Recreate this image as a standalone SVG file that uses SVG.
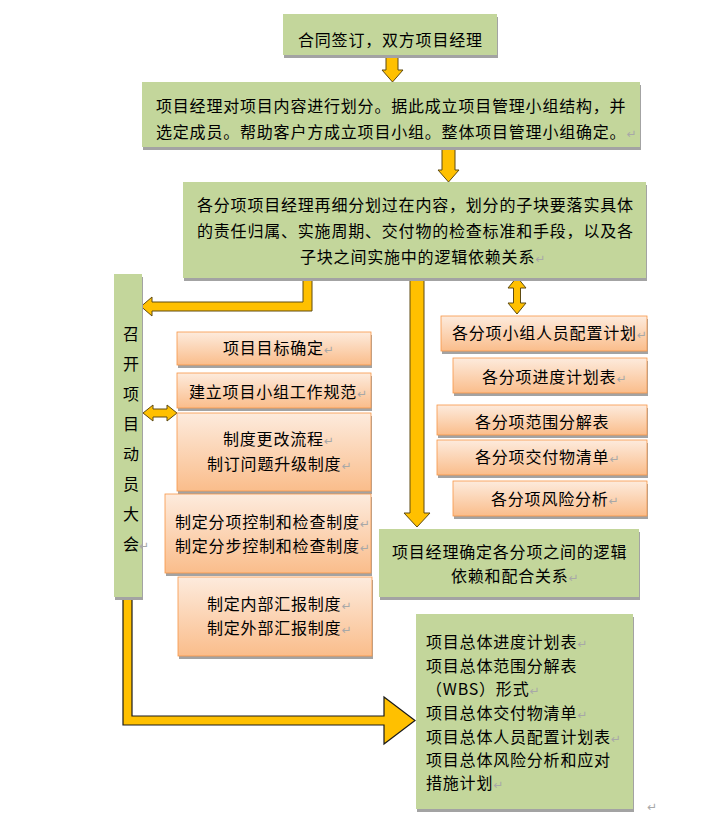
<svg xmlns="http://www.w3.org/2000/svg" width="703" height="816" viewBox="0 0 703 816">
<style>
text{font-family:"Noto Sans CJK SC","DejaVu Sans",sans-serif;font-size:16px;letter-spacing:0.8px;fill:#000}
.g{fill:#C3D69B}
.o{fill:url(#og);stroke:#F79646;stroke-width:0.8}
.sh{fill:#A3A3A3}
.pm{fill:#A8A8A8;font-size:12px;font-family:"DejaVu Sans",sans-serif;letter-spacing:0}
.arr{fill:#FFC000;stroke:#5E4B12;stroke-width:1}
.arrk{fill:#FFC000;stroke:#1A1A1A;stroke-width:1.2}
</style>
<defs>
<linearGradient id="og" x1="0" y1="0" x2="0" y2="1">
<stop offset="0" stop-color="#FDEBDD"/>
<stop offset="1" stop-color="#FABD8B"/>
</linearGradient>
</defs>
<rect width="703" height="816" fill="#fff"/>

<g id="connectors">
<polygon class="arr" points="386,56 398,56 398,70 403,70 392.5,82 382,70 386,70"/>
<polygon class="arr" points="442,148 455,148 455,170 459,170 448.5,182 438,170 442,170"/>
<polygon class="arr" points="312,278 312,311 152,311 152,316 141,306.5 152,297 152,302 303,302 303,278"/>
<polygon class="arr" points="410,278 424,278 424,513 430,513 417,527 404,513 410,513"/>
<polygon class="arr" points="517,277 526,288 520.5,288 520.5,303 526,303 517,314 508,303 513.5,303 513.5,288 508,288"/>
<polygon class="arr" points="143,413 153,405 153,409 167,409 167,405 177,413 167,421 167,417 153,417 153,421"/>
<polygon class="arrk" points="123,597 132,597 132,716 384,716 384,697 415,720.5 384,744 384,725 123,725"/>
</g>

<g id="n1">
<rect class="sh" x="284" y="17" width="214" height="41"/>
<rect class="g" x="283" y="14" width="214" height="41"/>
<text x="298" y="46">合同签订，双方项目经理</text>
</g>

<g id="n2">
<rect class="sh" x="143" y="85" width="498" height="65"/>
<rect class="g" x="142" y="82" width="498" height="65"/>
<text x="156" y="112">项目经理对项目内容进行划分。据此成立项目管理小组结构，并</text>
<text x="156" y="138">选定成员。帮助客户方成立项目小组。整体项目管理小组确定。<tspan class="pm">↵</tspan></text>
</g>

<g id="n3">
<rect class="sh" x="184" y="185" width="463" height="96"/>
<rect class="g" x="183" y="182" width="463" height="96"/>
<text x="197" y="211">各分项项目经理再细分划过在内容，划分的子块要落实具体</text>
<text x="197" y="237">的责任归属、实施周期、交付物的检查标准和手段，以及各</text>
<text x="300" y="263">子块之间实施中的逻辑依赖关系<tspan class="pm">↵</tspan></text>
</g>

<g id="n4">
<rect class="sh" x="115" y="277" width="28" height="323"/>
<rect class="g" x="114" y="274" width="28" height="323"/>
<text x="131" y="340" text-anchor="middle" style="letter-spacing:0">召</text>
<text x="131" y="370" text-anchor="middle" style="letter-spacing:0">开</text>
<text x="131" y="400" text-anchor="middle" style="letter-spacing:0">项</text>
<text x="131" y="430" text-anchor="middle" style="letter-spacing:0">目</text>
<text x="131" y="460" text-anchor="middle" style="letter-spacing:0">动</text>
<text x="131" y="490" text-anchor="middle" style="letter-spacing:0">员</text>
<text x="131" y="520" text-anchor="middle" style="letter-spacing:0">大</text>
<text x="123" y="550" style="letter-spacing:0">会<tspan class="pm">↵</tspan></text>
</g>

<g id="n5">
<rect class="sh" x="178" y="335" width="194" height="33"/>
<rect class="o" x="177" y="332" width="194" height="33"/>
<text x="223" y="354">项目目标确定<tspan class="pm">↵</tspan></text>
</g>
<g id="n6">
<rect class="sh" x="178" y="376" width="194" height="35"/>
<rect class="o" x="177" y="373" width="194" height="35"/>
<text x="189" y="398">建立项目小组工作规范<tspan class="pm">↵</tspan></text>
</g>
<g id="n7">
<rect class="sh" x="178" y="416" width="194" height="78"/>
<rect class="o" x="177" y="413" width="194" height="78"/>
<text x="223" y="445">制度更改流程<tspan class="pm">↵</tspan></text>
<text x="207" y="470">制订问题升级制度<tspan class="pm">↵</tspan></text>
</g>
<g id="n8">
<rect class="sh" x="166" y="497" width="206" height="79"/>
<rect class="o" x="165" y="494" width="206" height="79"/>
<text x="175" y="528">制定分项控制和检查制度<tspan class="pm">↵</tspan></text>
<text x="175" y="552">制定分步控制和检查制度<tspan class="pm">↵</tspan></text>
</g>
<g id="n9">
<rect class="sh" x="179" y="580" width="194" height="79"/>
<rect class="o" x="178" y="577" width="194" height="79"/>
<text x="207" y="610">制定内部汇报制度<tspan class="pm">↵</tspan></text>
<text x="207" y="634">制定外部汇报制度<tspan class="pm">↵</tspan></text>
</g>

<g id="n10">
<rect class="sh" x="442" y="319" width="206" height="35"/>
<rect class="o" x="441" y="316" width="206" height="35"/>
<text x="452" y="339">各分项小组人员配置计划<tspan class="pm">↵</tspan></text>
</g>
<g id="n11">
<rect class="sh" x="454" y="361" width="194" height="35"/>
<rect class="o" x="453" y="358" width="194" height="35"/>
<text x="482" y="383">各分项进度计划表<tspan class="pm">↵</tspan></text>
</g>
<g id="n12">
<rect class="sh" x="438" y="408" width="210" height="30"/>
<rect class="o" x="437" y="405" width="210" height="30"/>
<text x="475" y="428">各分项范围分解表</text>
</g>
<g id="n13">
<rect class="sh" x="438" y="443" width="210" height="35"/>
<rect class="o" x="437" y="440" width="210" height="35"/>
<text x="475" y="463">各分项交付物清单<tspan class="pm">↵</tspan></text>
</g>
<g id="n14">
<rect class="sh" x="454" y="484" width="194" height="35"/>
<rect class="o" x="453" y="481" width="194" height="35"/>
<text x="491" y="505">各分项风险分析<tspan class="pm">↵</tspan></text>
</g>

<g id="n15">
<rect class="sh" x="380" y="532" width="260" height="68"/>
<rect class="g" x="379" y="529" width="260" height="68"/>
<text x="392" y="558">项目经理确定各分项之间的逻辑</text>
<text x="451" y="582">依赖和配合关系<tspan class="pm">↵</tspan></text>
</g>

<g id="n16">
<rect class="sh" x="417" y="617" width="217" height="195"/>
<rect class="g" x="416" y="614" width="217" height="195"/>
<text x="426" y="648">项目总体进度计划表<tspan class="pm">↵</tspan></text>
<text x="426" y="672">项目总体范围分解表</text>
<text x="426" y="695">（WBS）形式<tspan class="pm">↵</tspan></text>
<text x="426" y="719">项目总体交付物清单<tspan class="pm">↵</tspan></text>
<text x="426" y="743">项目总体人员配置计划表<tspan class="pm">↵</tspan></text>
<text x="426" y="766">项目总体风险分析和应对</text>
<text x="426" y="789">措施计划<tspan class="pm">↵</tspan></text>
</g>
<text class="pm" x="647" y="811">↵</text>
</svg>
